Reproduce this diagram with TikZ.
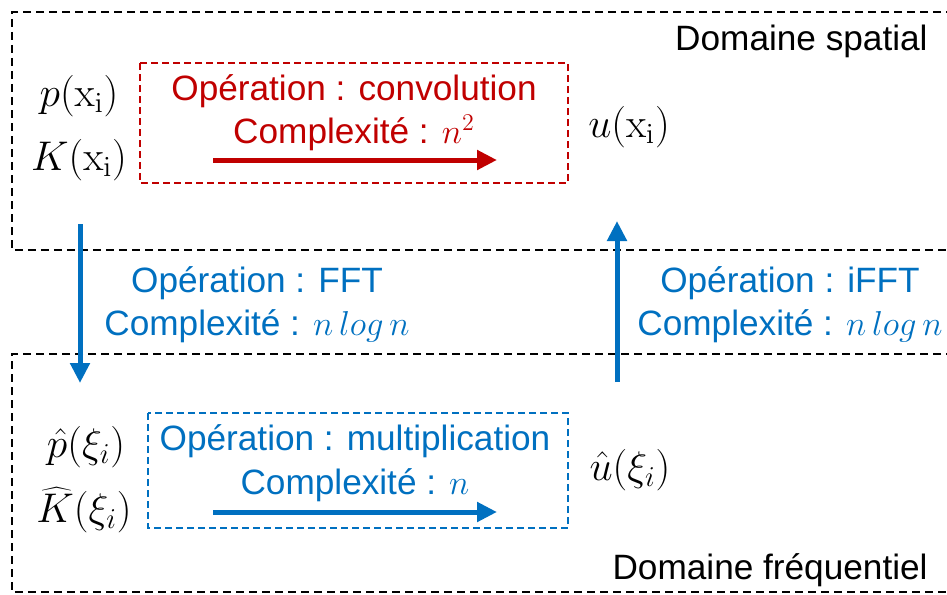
\documentclass[tikz,border=0pt]{standalone}
\usepackage[no-math]{fontspec}
\setmainfont{Liberation Sans}
\usetikzlibrary{arrows.meta}
\definecolor{cred}{HTML}{C00000}
\definecolor{cblue}{HTML}{0070C0}
\newcommand{\inmth}[1]{{\fontsize{18.6}{22}\selectfont$#1$}}
\tikzset{
  txt/.style={font=\fontsize{17.6}{21}\selectfont, inner sep=0pt},
  mtxt/.style={font=\fontsize{19.5}{23}\selectfont, inner sep=0pt},
  outerbox/.style={draw=black, line width=0.9pt, dash pattern=on 4pt off 2.5pt},
  innerbox/.style={line width=0.9pt, dash pattern=on 3.5pt off 2pt},
  bigarrow/.style={line width=2.5pt, -{Triangle[length=10pt,width=9.5pt]}},
}
\begin{document}
\begin{tikzpicture}[x=0.5pt,y=-0.5pt]
\useasboundingbox (0,0) rectangle (947,594);
\clip (0,0) rectangle (947,594);
% outer domains
\draw[outerbox] (980,12) -- (12,12) -- (12,250) -- (980,250);
\draw[outerbox] (980,354) -- (12,354) -- (12,592) -- (980,592);
\node[txt, anchor=east] (dsp) at (928,41) {Domaine spatial};
\node[txt, anchor=east] (dfr) at (928,570) {Domaine fréquentiel};
% spatial
\draw[innerbox, draw=cred] (140,63) rectangle (568,183);
\node[txt, text=cred] (op1) at (354,91) {Opération : convolution};
\node[txt, text=cred] (cx1) at (354,133) {Complexité : \inmth{n^2}};
\coordinate (r1a) at (213,160);
\coordinate (r1b) at (497,160);
\draw[bigarrow, cred] (r1a) -- (r1b);
\node[mtxt] (px) at (79,96) {$p(\mathrm{x}_\mathrm{i})$};
\node[mtxt] (kx) at (79,160) {$K(\mathrm{x}_\mathrm{i})$};
\node[mtxt] (ux) at (629,127) {$u(\mathrm{x}_\mathrm{i})$};
% frequency
\draw[innerbox, draw=cblue] (148,413) rectangle (568,528);
\node[txt, text=cblue] (op2) at (355,441) {Opération : multiplication};
\node[txt, text=cblue] (cx2) at (355,485) {Complexité : \inmth{n}};
\coordinate (b1a) at (213,512);
\coordinate (b1b) at (497,512);
\draw[bigarrow, cblue] (b1a) -- (b1b);
\node[mtxt] (pk) at (86,447) {$\hat{p}(\xi_i)$};
\node[mtxt] (kk) at (84,510) {$\widehat{K}(\xi_i)$};
\node[mtxt] (uk) at (630,470) {$\hat{u}(\xi_i)$};
% transforms
\coordinate (f1) at (80,224);
\coordinate (f2) at (80,383);
\draw[bigarrow, cblue] (f1) -- (f2);
\coordinate (i1) at (617,382);
\coordinate (i2) at (617,221);
\draw[bigarrow, cblue] (i1) -- (i2);
\node[txt, text=cblue] (fft1) at (257,283) {Opération : FFT};
\node[txt, text=cblue] (fft2) at (257,326) {Complexité : \inmth{n\,log\,n}};
\node[txt, text=cblue] (ifft1) at (790,283) {Opération : iFFT};
\node[txt, text=cblue] (ifft2) at (790,326) {Complexité : \inmth{n\,log\,n}};
\end{tikzpicture}
\end{document}
